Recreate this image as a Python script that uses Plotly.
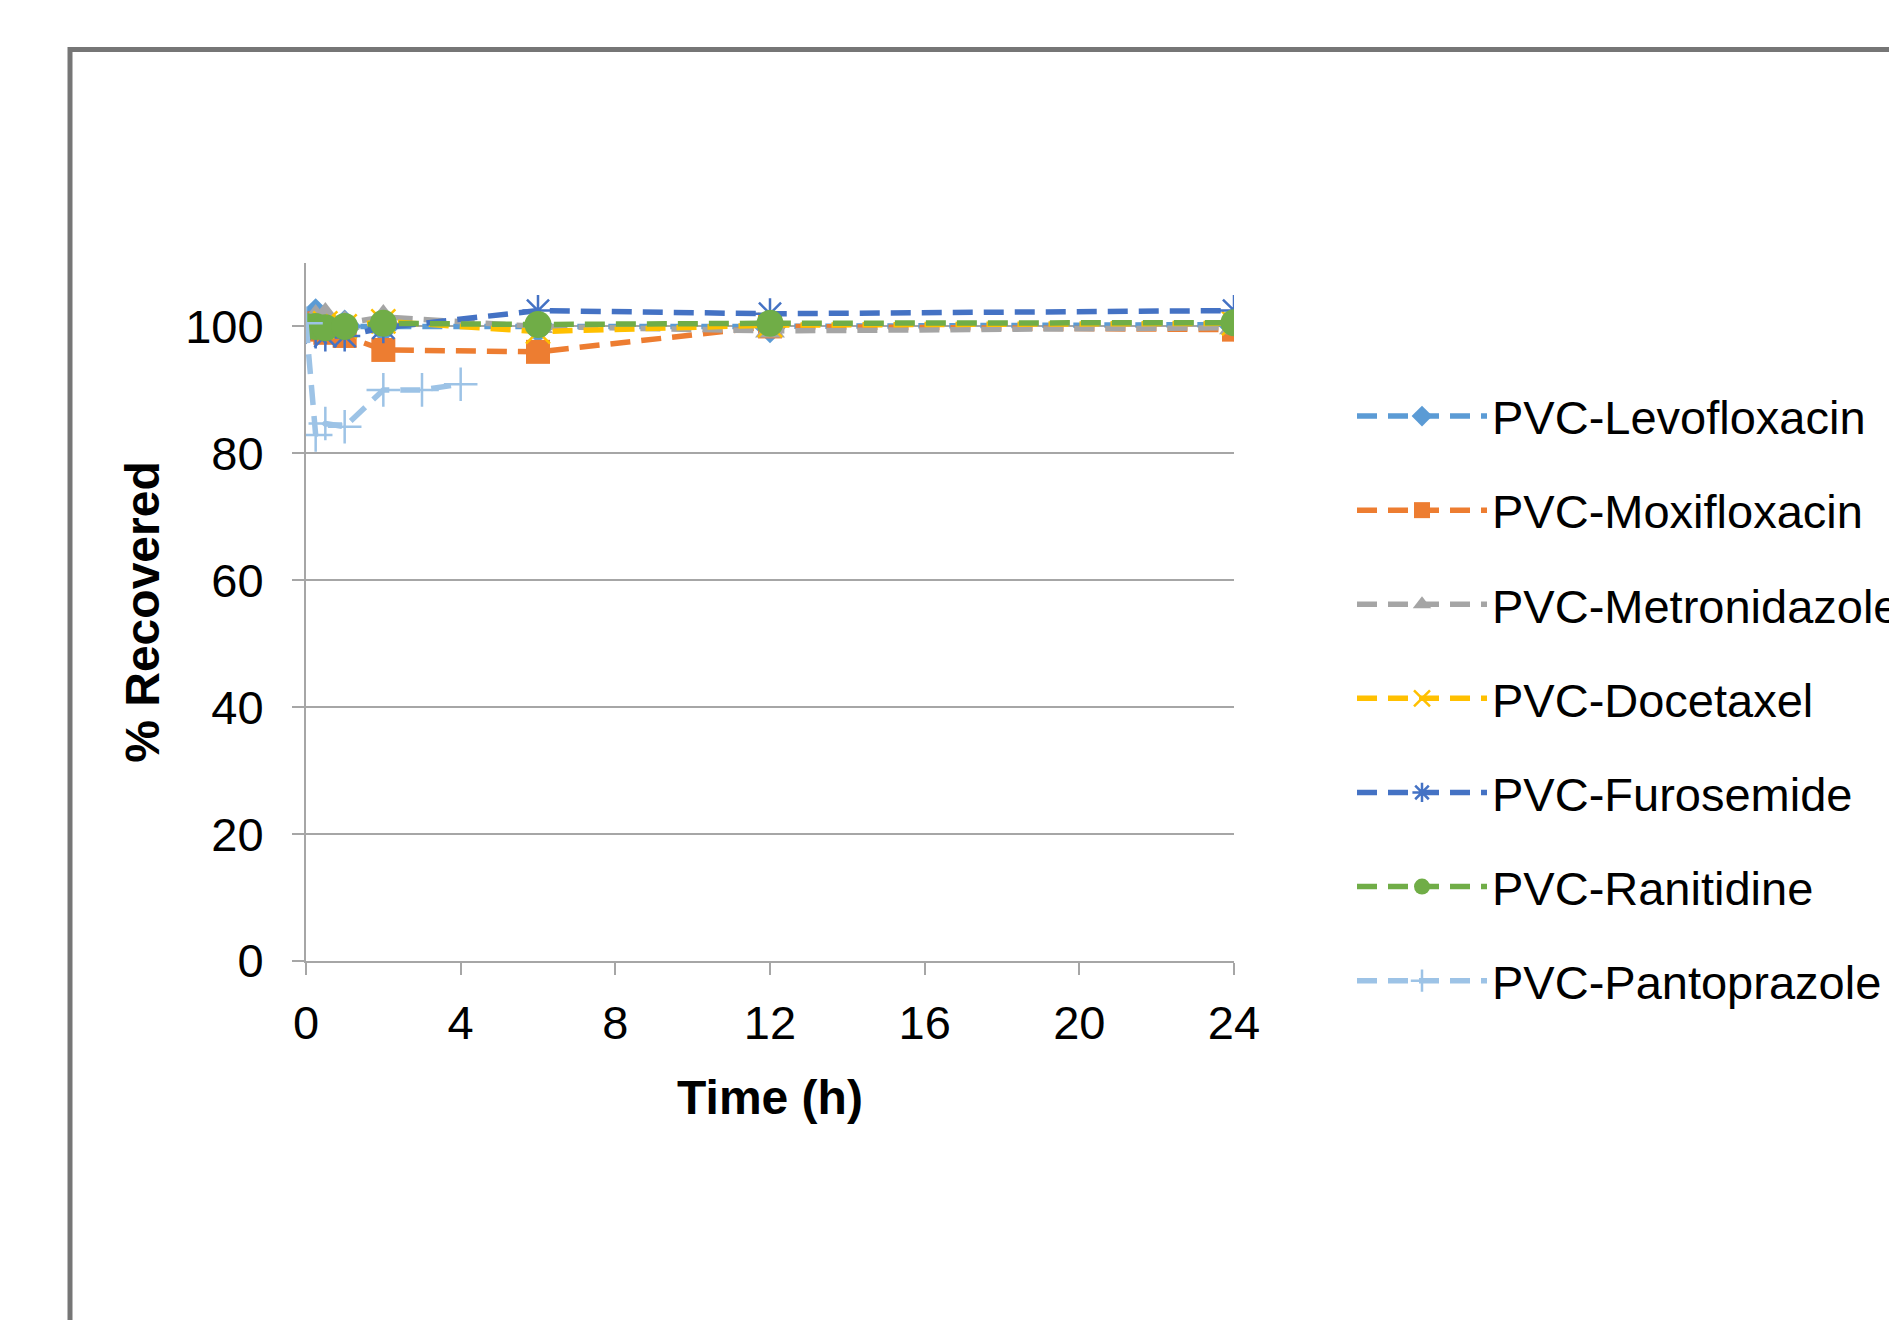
import plotly.graph_objects as go

# ---- data ----
time_main = [0, 0.25, 0.5, 1, 2, 6, 12, 24]
levofloxacin = [100.2, 101.8, 100.5, 100.0, 100.0, 100.0, 100.0, 100.3]
moxifloxacin = [100.5, 99.5, 99.0, 98.5, 96.3, 96.0, 100.0, 99.5]
metronidazole = [100.0, 101.5, 101.8, 100.5, 101.5, 100.0, 99.3, 99.8]
docetaxel = [100.0, 100.0, 100.5, 100.0, 100.8, 99.2, 100.2, 100.5]
furosemide = [100.0, 99.0, 98.5, 98.5, 99.8, 102.5, 102.0, 102.5]
ranitidine = [100.0, 100.0, 99.8, 100.0, 100.5, 100.3, 100.5, 100.6]
time_panto = [0, 0.25, 0.5, 1, 2, 3, 4]
pantoprazole = [100.5, 82.9, 84.7, 84.2, 90.0, 90.0, 90.9]

series_names = ["PVC-Levofloxacin", "PVC-Moxifloxacin", "PVC-Metronidazole",
                "PVC-Docetaxel", "PVC-Furosemide", "PVC-Ranitidine", "PVC-Pantoprazole"]
series_x = [time_main] * 6 + [time_panto]
series_y = [levofloxacin, moxifloxacin, metronidazole, docetaxel, furosemide, ranitidine, pantoprazole]
colors = ["#5B9BD5", "#ED7D31", "#A5A5A5", "#FFC000", "#4472C4", "#70AD47", "#9DC3E6"]
symbols = ["diamond", "square", "triangle-up", "x-thin-open", "asterisk-open", "circle", "cross-thin-open"]
sizes = [26, 24, 26, 24, 26, 27, 24]

x_ticks = [0, 4, 8, 12, 16, 20, 24]
y_ticks = [0, 20, 40, 60, 80, 100]

FONT = "Liberation Sans, Arial, sans-serif"
W, H = 1889, 1320
L, R, T, B = 306, 655, 263, 359
PW, PH = W - L - R, H - T - B

fig = go.Figure()
for i, name in enumerate(series_names):
    thin = symbols[i].endswith("-open")
    fig.add_trace(go.Scatter(
        x=series_x[i], y=series_y[i], name=name, mode="lines+markers",
        legendgroup=name,
        line=dict(color=colors[i], width=5.5, dash="20px,11px"),
        marker=dict(symbol=symbols[i], size=sizes[i], color=colors[i],
                    line=dict(color=colors[i], width=2.5 if thin else 0)),
    ))

def px_to_paper_x(px):
    return (px - L) / PW

def px_to_paper_y(py):
    return (H - B - py) / PH

fig.update_layout(
    width=W, height=H,
    margin=dict(l=L, r=R, t=T, b=B, autoexpand=False),
    paper_bgcolor="white", plot_bgcolor="white",
    font=dict(family=FONT, size=48, color="black"),
    showlegend=True,
    legend=dict(
        x=px_to_paper_x(1352), y=px_to_paper_y(379), xanchor="left", yanchor="top",
        font=dict(family=FONT, size=47, color="black"),
        bgcolor="rgba(0,0,0,0)", tracegroupgap=30, itemwidth=130,
    ),
    xaxis=dict(
        range=[0, 24], tickvals=x_ticks, ticktext=[str(v) for v in x_ticks],
        showline=True, linecolor="#a6a6a6", linewidth=2,
        ticks="outside", ticklen=12, tickcolor="#a6a6a6", tickwidth=2,
        showgrid=False, zeroline=False,
        tickfont=dict(family=FONT, size=47, color="black"),
        ticklabelstandoff=8,
        title=dict(text="<b>Time (h)</b>", font=dict(family=FONT, size=48, color="black"), standoff=32),
    ),
    yaxis=dict(
        range=[0, 110], tickvals=y_ticks, ticktext=[str(v) for v in y_ticks],
        showline=True, linecolor="#a6a6a6", linewidth=2,
        ticks="outside", ticklen=12, tickcolor="#a6a6a6", tickwidth=2,
        showgrid=True, gridcolor="#a6a6a6", gridwidth=2, zeroline=False,
        tickfont=dict(family=FONT, size=47, color="black"),
        ticklabelstandoff=19,
        title=dict(text="<b>% Recovered</b>", font=dict(family=FONT, size=48, color="black"), standoff=10),
    ),
    shapes=[dict(
        type="rect", xref="paper", yref="paper", layer="above",
        x0=px_to_paper_x(70), x1=px_to_paper_x(2500),
        y0=px_to_paper_y(2000), y1=px_to_paper_y(49.5),
        line=dict(color="#767676", width=5), fillcolor="rgba(0,0,0,0)",
    )],
)

fig.write_html("out.html")
